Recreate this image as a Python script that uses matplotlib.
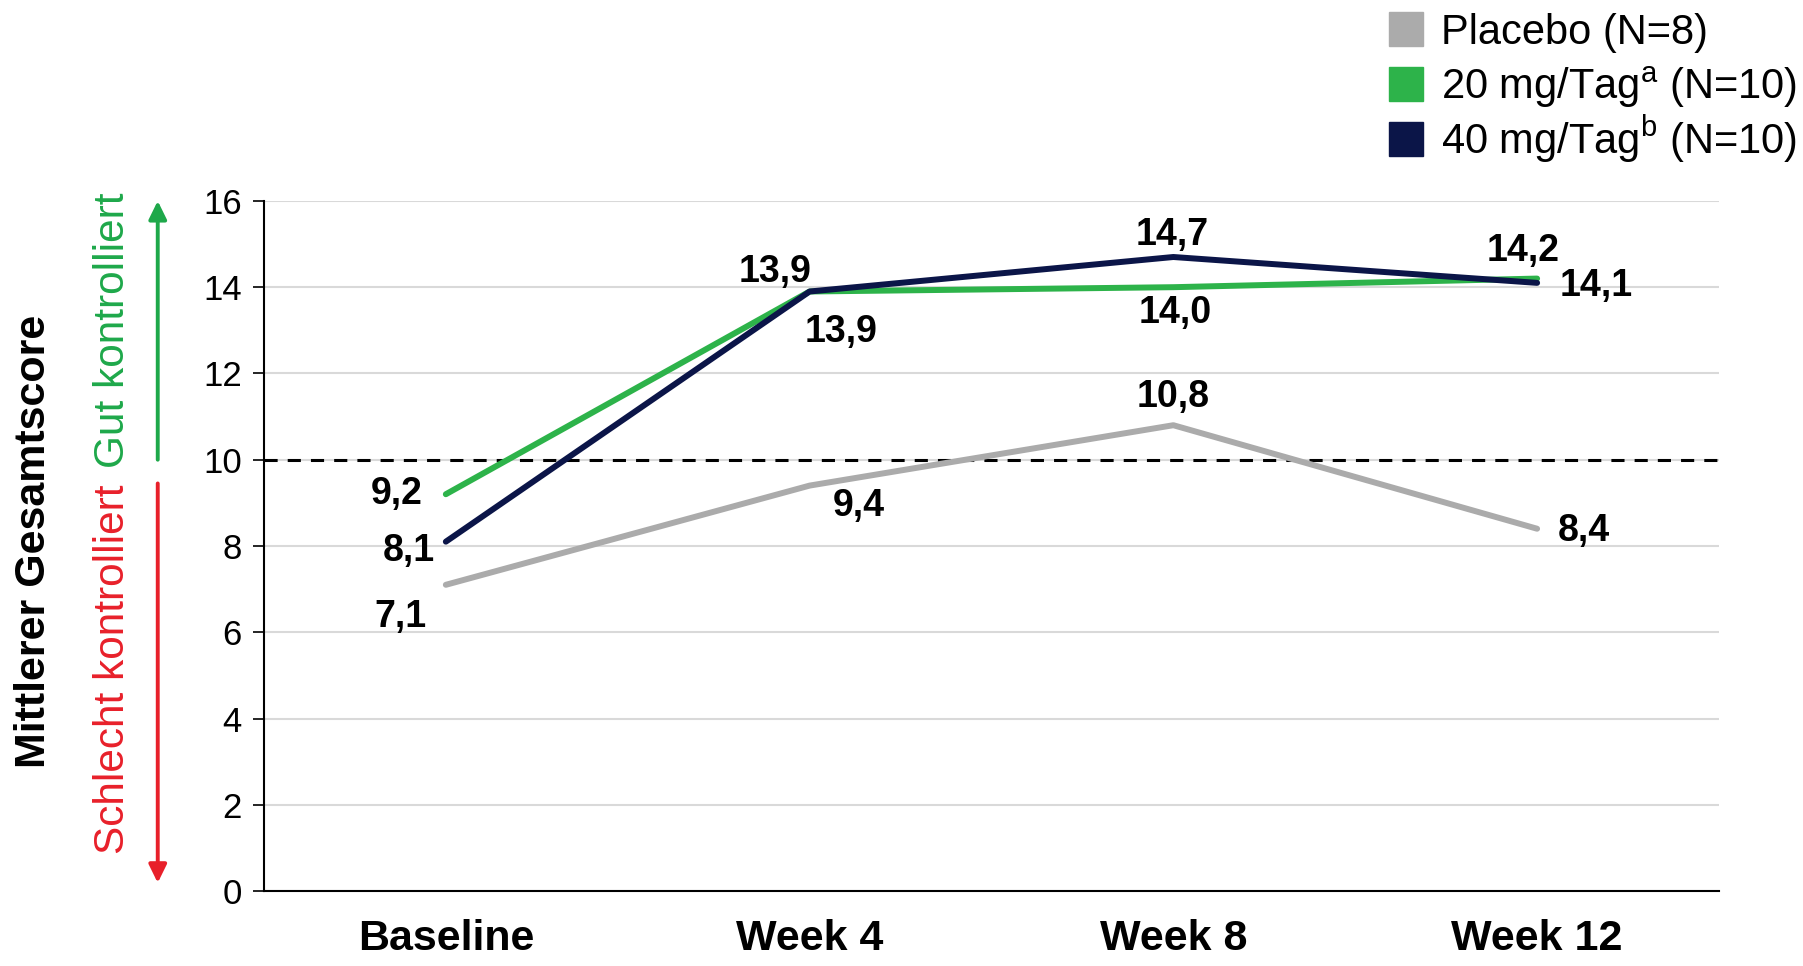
import matplotlib
matplotlib.use("Agg")
import matplotlib.pyplot as plt
import matplotlib.transforms as mtransforms
from matplotlib.patches import Rectangle

plt.rcParams['font.family'] = ['Liberation Sans', 'DejaVu Sans']
plt.rcParams['mathtext.fontset'] = 'custom'
plt.rcParams['mathtext.rm'] = 'Liberation Sans'

# data
visits = ["Baseline", "Week 4", "Week 8", "Week 12"]
placebo = [7.1, 9.4, 10.8, 8.4]
dose20 = [9.2, 13.9, 14.0, 14.2]
dose40 = [8.1, 13.9, 14.7, 14.1]
series_names = ["Placebo (N=8)", r"20 mg/Tag$^{\mathrm{a}}$ (N=10)", r"40 mg/Tag$^{\mathrm{b}}$ (N=10)"]
threshold = 10

c_placebo = "#ababab"
c_20 = "#2db34a"
c_40 = "#0b1548"
colors = [c_placebo, c_20, c_40]

# label offsets in pixels, per series
off_placebo = [(-45, -32), (49, -20), (0, 28), (47, -2)]
off_20 = [(-49, 0), (31, -40), (2, -26), (-14, 28)]
off_40 = [(-37, -9), (-35, 20), (-1, 22), (59, -3)]

W, H = 1803, 966
fig = plt.figure(figsize=(W / 100, H / 100), dpi=100)
ax = fig.add_axes([0.1464, 0.0776, 0.807, 0.7144])

x = [i + 0.5 for i in range(len(visits))]

ax.axhline(threshold, color="black", lw=2.2, ls=(0, (4.3, 3.3)), zorder=2)
ax.plot(x, placebo, color=c_placebo, lw=4.3, solid_capstyle="round", zorder=3)
ax.plot(x, dose20, color=c_20, lw=4.3, solid_capstyle="round", zorder=4)
ax.plot(x, dose40, color=c_40, lw=4.3, solid_capstyle="round", zorder=5)

for vals, offs in [(placebo, off_placebo), (dose20, off_20), (dose40, off_40)]:
    for xi, v, o in zip(x, vals, offs):
        ax.annotate(f"{v:.1f}".replace(".", ","), (xi, v), xytext=o,
                    textcoords="offset pixels", ha="center", va="center",
                    fontsize=27, fontweight="bold", zorder=6)

ax.set_xlim(0, 4)
ax.set_ylim(0, 16)
ax.set_yticks(range(0, 17, 2))
ax.set_xticks(x)
ax.set_xticklabels(visits, fontsize=31, fontweight="bold")
ax.tick_params(axis="x", length=0, pad=20)
ax.tick_params(axis="y", labelsize=25, length=8, width=1.2, pad=8)
ax.grid(axis="y", color="#d9d9d9", lw=1.5)
ax.set_axisbelow(True)
for s in ["top", "right"]:
    ax.spines[s].set_visible(False)
for s in ["left", "bottom"]:
    ax.spines[s].set_linewidth(1.5)

# y label and control-state arrows left of the axis
trans = mtransforms.blended_transform_factory(ax.transAxes, ax.transData)
ax.text(-0.158, 8.1, "Mittlerer Gesamtscore", transform=trans, rotation=90,
        ha="center", va="center", fontsize=31, fontweight="bold")
ax.text(-0.104, 13.0, "Gut kontrolliert", transform=trans, rotation=90,
        ha="center", va="center", fontsize=30.5, color="#1ea84a")
ax.text(-0.104, 5.15, "Schlecht kontrolliert", transform=trans, rotation=90,
        ha="center", va="center", fontsize=30.5, color="#e8202a")
arrow_style = "-|>,head_length=0.55,head_width=0.27"
ax.annotate("", xy=(-0.073, 16.0), xytext=(-0.073, 10.0), xycoords=trans,
            textcoords=trans, annotation_clip=False,
            arrowprops=dict(arrowstyle=arrow_style, color="#1ea84a", lw=2.8,
                            mutation_scale=20, shrinkA=0, shrinkB=0))
ax.annotate("", xy=(-0.073, 0.19), xytext=(-0.073, 9.45), xycoords=trans,
            textcoords=trans, annotation_clip=False,
            arrowprops=dict(arrowstyle=arrow_style, color="#e8202a", lw=2.8,
                            mutation_scale=20, shrinkA=0, shrinkB=0))

# legend drawn by hand so the rows keep an even spacing
box = 34
for i, (name, col) in enumerate(zip(series_names, colors)):
    yc = 29 + 55 * i
    fig.patches.append(Rectangle((1389 / W, 1 - (yc + box / 2) / H), box / W, box / H,
                                 transform=fig.transFigure, color=col))
    fig.text(1441 / W, 1 - (yc + 15) / H, name, fontsize=30, ha="left",
             va="baseline")

fig.savefig("out.png", dpi=100)
